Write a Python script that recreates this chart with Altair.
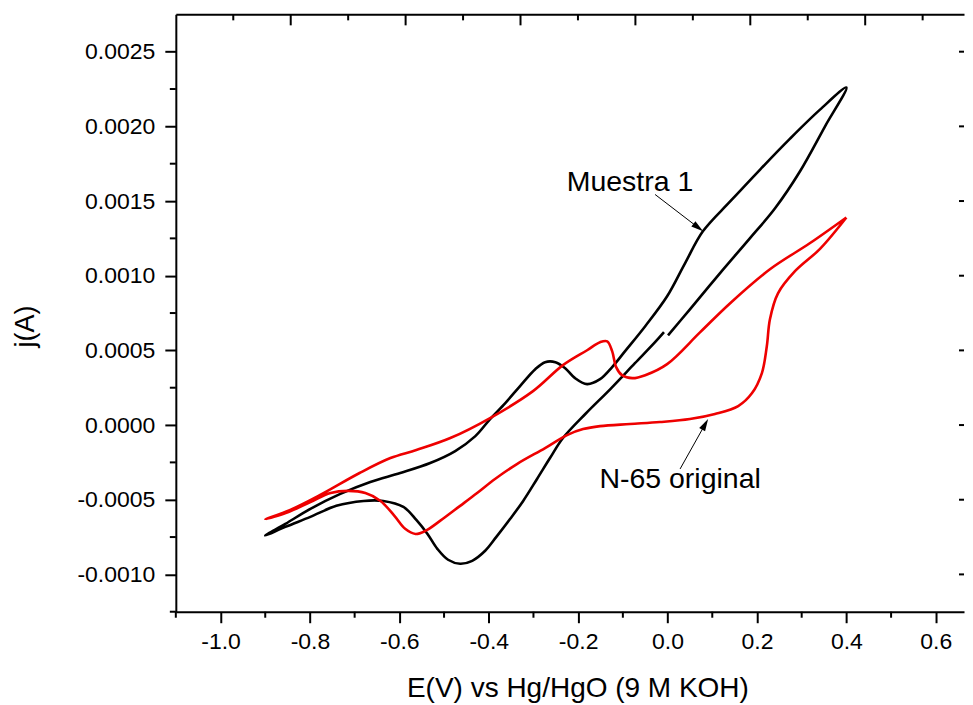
import altair as alt
import pandas as pd

# ---- data ----
black_E = [0.001, 0.050, 0.117, 0.184, 0.240, 0.296, 0.352, 0.400, 0.341, 0.274, 0.207, 0.140,
           0.079, 0.039, -0.001, -0.050, -0.095, -0.124, -0.151, -0.180, -0.207, -0.229, -0.251,
           -0.274, -0.296, -0.330, -0.363, -0.397, -0.430, -0.475, -0.531, -0.598, -0.665, -0.732,
           -0.799, -0.855, -0.900, -0.855, -0.799, -0.741, -0.680, -0.636, -0.591, -0.562, -0.537,
           -0.515, -0.491, -0.464, -0.437, -0.408, -0.383, -0.352, -0.323, -0.292, -0.263, -0.234,
           -0.184, -0.128, -0.073, -0.028, -0.008]
black_j = [0.00060, 0.000775, 0.001016, 0.00125, 0.00145, 0.001698, 0.001999, 0.00226, 0.002112,
           0.001918, 0.001711, 0.001497, 0.001297, 0.001083, 0.000862, 0.000662, 0.000495, 0.000388,
           0.000307, 0.000274, 0.000314, 0.000381, 0.000421, 0.000421, 0.000374, 0.000261, 0.000147,
           0.00004, -0.000074, -0.000174, -0.000254, -0.000321, -0.000381, -0.000461, -0.000561,
           -0.000662, -0.00074, -0.000682, -0.000615, -0.000541, -0.000508, -0.000508, -0.000548,
           -0.000635, -0.000729, -0.000829, -0.000902, -0.000929, -0.000909, -0.000842, -0.000749,
           -0.000628, -0.000508, -0.000361, -0.000221, -0.000087, 0.000074, 0.000241, 0.000414,
           0.000555, 0.000622]

red_E = [0.400, 0.341, 0.285, 0.247, 0.229, 0.222, 0.211, 0.189, 0.158, 0.106, 0.050, -0.017,
         -0.084, -0.151, -0.189, -0.225, -0.274, -0.337, -0.386, -0.426, -0.464, -0.509, -0.542,
         -0.564, -0.587, -0.611, -0.642, -0.676, -0.714, -0.754, -0.799, -0.848, -0.900, -0.844,
         -0.777, -0.689, -0.620, -0.562, -0.486, -0.397, -0.301, -0.234, -0.180, -0.151, -0.135,
         -0.124, -0.115, -0.102, -0.079, -0.050, -0.001, 0.073, 0.140, 0.229, 0.318, 0.400]
red_j = [0.00139, 0.00118, 0.00103, 0.000882, 0.000709, 0.000528, 0.000348, 0.000214, 0.000127,
         0.000074, 0.00004, 0.00002, 0.000007, -0.000007, -0.000027, -0.000067, -0.000154, -0.000261,
         -0.000361, -0.000455, -0.000541, -0.000642, -0.000709, -0.000729, -0.000695, -0.000608,
         -0.000508, -0.000455, -0.000441, -0.000455, -0.000515, -0.000582, -0.00063, -0.000568,
         -0.000468, -0.000321, -0.000221, -0.000167, -0.000087, 0.000047, 0.000227, 0.000401,
         0.000501, 0.000555, 0.000561, 0.000495, 0.000388, 0.000334, 0.000314, 0.000334, 0.000408,
         0.000622, 0.000816, 0.001043, 0.001217, 0.00139]

series_names = ["Muestra 1", "N-65 original"]
series_colors = ["#000000", "#ee0000"]

x_major = [-1.0, -0.8, -0.6, -0.4, -0.2, 0.0, 0.2, 0.4, 0.6]
x_minor = [-1.1, -0.9, -0.7, -0.5, -0.3, -0.1, 0.1, 0.3, 0.5]
y_major = [-0.0010, -0.0005, 0.0, 0.0005, 0.0010, 0.0015, 0.0020, 0.0025]
y_minor = [-0.00125, -0.00075, -0.00025, 0.00025, 0.00075, 0.00125, 0.00175, 0.00225]
top_major = [1, 2, 3, 4, 5, 6]
top_minor = [0.5, 1.5, 2.5, 3.5, 4.5, 5.5, 6.5]

label_text = ["Muestra 1", "N-65 original"]
label_E = [-0.084, 0.028]
label_j = [0.00163, -0.00036]
arrow_E0 = [-0.028, 0.028]
arrow_j0 = [0.001544, -0.000294]
arrow_E1 = [0.0686, 0.084]
arrow_j1 = [0.001322, 0.000005]
arrow_angle = [127.6, 29.3]

# ---- layout ----
W, H = 789, 598
XD = [-1.1, 0.6631]
YD = [-0.00125, 0.00275]
TD = [0, 6.86]
FONT = "Liberation Sans"


def xs():
    return alt.Scale(domain=XD, nice=False, zero=False)


def ys():
    return alt.Scale(domain=YD, nice=False, zero=False)


curves = pd.DataFrame({
    "E": black_E + red_E,
    "j": black_j + red_j,
    "serie": [series_names[0]] * len(black_E) + [series_names[1]] * len(red_E),
    "orden": list(range(len(black_E))) + list(range(len(red_E))),
})

lines = alt.Chart(curves).mark_line(strokeWidth=2.6, interpolate="catmull-rom").encode(
    x=alt.X("E:Q", scale=xs(), axis=alt.Axis(
        orient="bottom", values=x_major, tickSize=11, labelPadding=8,
        labelExpr="replace(format(datum.value, '.1f'), '\u2212', '-')",
        title="E(V) vs Hg/HgO (9 M KOH)", titleX=402, titleY=77, titleBaseline="middle",
        grid=False)),
    y=alt.Y("j:Q", scale=ys(), axis=alt.Axis(
        orient="left", values=y_major, tickSize=11, labelPadding=10,
        labelExpr="replace(format(datum.value, '.4f'), '\u2212', '-')",
        title="j(A)", titleX=-150, titleY=312, titleBaseline="middle", titleAngle=270,
        titleFontSize=27, grid=False)),
    color=alt.Color("serie:N", scale=alt.Scale(domain=series_names, range=series_colors),
                    legend=None),
    order="orden:Q",
)

tick_style = dict(color="black", strokeWidth=2)

minor_x = alt.Chart(pd.DataFrame({"xm": x_minor})).mark_rule(**tick_style).encode(
    x=alt.X("xm:Q", scale=xs(), axis=None), y=alt.value(H), y2=alt.value(H + 6))

minor_y = alt.Chart(pd.DataFrame({"ym": y_minor})).mark_rule(**tick_style).encode(
    y=alt.Y("ym:Q", scale=ys(), axis=None), x=alt.value(-6), x2=alt.value(0))

right_y = alt.Chart(pd.DataFrame({"yr": y_major})).mark_rule(**tick_style).encode(
    y=alt.Y("yr:Q", scale=ys(), axis=None), x=alt.value(W - 5), x2=alt.value(W))

top_maj = alt.Chart(pd.DataFrame({"t": top_major})).mark_rule(**tick_style).encode(
    x=alt.X("t:Q", scale=alt.Scale(domain=TD, nice=False, zero=False),
            axis=alt.Axis(orient="top", ticks=False, labels=False, title=None,
                          domain=True, grid=False)),
    y=alt.value(0), y2=alt.value(11))

top_min = alt.Chart(pd.DataFrame({"t2": top_minor})).mark_rule(**tick_style).encode(
    x=alt.X("t2:Q", scale=alt.Scale(domain=TD, nice=False, zero=False), axis=None),
    y=alt.value(0), y2=alt.value(6))

arrow_df = pd.DataFrame({"E0": arrow_E0, "j0": arrow_j0, "E1": arrow_E1, "j1": arrow_j1,
                         "ang": arrow_angle})

arrows = alt.Chart(arrow_df).mark_rule(color="black", strokeWidth=1).encode(
    x=alt.X("E0:Q", scale=xs(), axis=None), y=alt.Y("j0:Q", scale=ys(), axis=None),
    x2="E1:Q", y2="j1:Q")

heads = alt.Chart(arrow_df).mark_point(
    shape="M0,-1L0.55,1L-0.55,1Z", filled=True, size=150, color="black", opacity=1
).encode(
    x=alt.X("E1:Q", scale=xs(), axis=None), y=alt.Y("j1:Q", scale=ys(), axis=None),
    angle=alt.Angle("ang:Q", scale=None))

texts = alt.Chart(pd.DataFrame({"E": label_E, "j": label_j, "txt": label_text})).mark_text(
    font=FONT, fontSize=28.5, color="black", align="center", baseline="middle"
).encode(
    x=alt.X("E:Q", scale=xs(), axis=None), y=alt.Y("j:Q", scale=ys(), axis=None),
    text="txt:N")

chart = alt.layer(
    lines, minor_x, minor_y, right_y, top_maj, top_min, arrows, heads, texts
).resolve_scale(x="independent").resolve_axis(y="independent").properties(
    width=W, height=H,
    padding={"left": 4, "top": 5, "right": 0, "bottom": 0},
    background="white",
).configure_view(stroke=None).configure_axis(
    labelFont=FONT, titleFont=FONT, labelFontSize=23, titleFontSize=28,
    labelColor="black", titleColor="black", titleFontWeight="normal",
    domainColor="black", tickColor="black", domainWidth=2, tickWidth=2,
)

chart.save("out.html", embed_options={"renderer": "svg", "actions": False})
